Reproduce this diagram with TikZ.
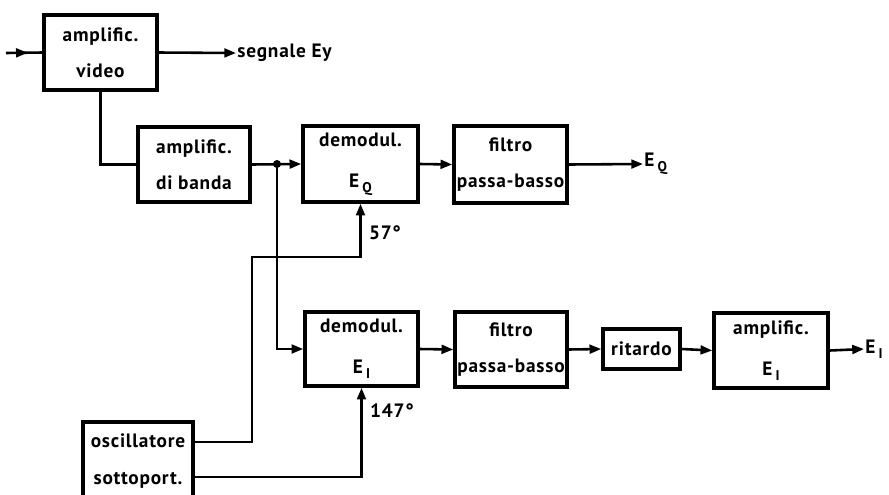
\documentclass[tikz,border=0pt]{standalone}
\usepackage{fontspec}
\setmainfont{PT Sans}[LetterSpace=4]
\usetikzlibrary{arrows.meta,calc,decorations.markings}

\newcommand\lowsub[1]{\,\raisebox{-0.55ex}{\fontsize{12}{12}\selectfont #1}}

\tikzset{
  block/.style={draw,line width=3pt,align=center,inner sep=0pt,
                font=\fontsize{16.5}{31}\selectfont\bfseries},
  lbl/.style={inner sep=1pt,font=\fontsize{16.5}{18}\selectfont\bfseries},
  wire/.style={line width=2.2pt,-{Triangle[length=10pt,width=7.5pt]}},
  midarrow/.style={line width=2.2pt,postaction={decorate},
                   decoration={markings,mark=at position .6 with
                               {\arrow{Triangle[length=10pt,width=7.5pt]}}}}
}

\begin{document}
\begin{tikzpicture}[x=0.03cm,y=-0.03cm]
  \useasboundingbox (0,0) rectangle (889,494);
  % blocks
  \node[block,minimum width=3.39cm,minimum height=2.25cm] (vid)  at (100.5,52.5) {amplific.\\video};
  \node[block,minimum width=3.36cm,minimum height=2.25cm] (band) at (194,164.5)  {amplific.\\di banda};
  \node[block,minimum width=3.45cm,minimum height=2.28cm] (demq) at (360.5,164)  {demodul.\\[4pt]E\lowsub{Q}};
  \node[block,minimum width=3.39cm,minimum height=2.31cm] (filq) at (510.5,164.5) {filtro\\passa-basso};
  \node[block,minimum width=3.39cm,minimum height=2.22cm] (demi) at (361.5,349)  {demodul.\\[4pt]E\lowsub{I}};
  \node[block,minimum width=3.36cm,minimum height=2.25cm] (fili) at (511,349.5)  {filtro\\passa-basso};
  \node[block,minimum width=2.31cm,minimum height=1.2cm]  (rit)  at (641.5,349)  {ritardo};
  \node[block,minimum width=3.42cm,minimum height=2.25cm] (ampi) at (771,350.5)  {amplific.\\[4pt]E\lowsub{I}};
  \node[block,minimum width=3.3cm,minimum height=2.34cm]  (osc)  at (138,461)    {oscillatore\\sottoport.};
  % labels
  \node[lbl,anchor=west] (sig) at (236,53)  {segnale Ey};
  \node[lbl,anchor=west] (eq)  at (643,164) {E\lowsub{Q}};
  \node[lbl,anchor=west] (ei)  at (864,349) {E\lowsub{I}};
  \node[lbl] (p57)  at (385,233) {57°};
  \node[lbl] (p147) at (392,411) {147°};
  \coordinate (in) at (6,53);
  \coordinate (jn) at (277,164);
  \coordinate (k57) at (252,257);
  % connectors
  \draw[midarrow] (in) -- (vid.west);
  \draw[wire] (vid.east) -- (sig.west);
  \draw[line width=2.2pt] (vid.south) |- (band.west);
  \draw[wire] (band.east) -- (demq.west);
  \fill (jn) circle (4);
  \draw[wire] (jn) |- (demi.west);
  \draw[wire] (demq.east) -- (filq.west);
  \draw[wire] (filq.east) -- (eq.west);
  \draw[wire] (demi.east) -- (fili.west);
  \draw[wire] (fili.east) -- (rit.west);
  \draw[wire] (rit.east) -- (ampi.west);
  \draw[wire] (ampi.east) -- (ei.west);
  \draw[wire] ([yshift=0.57cm]osc.east) -| (k57) -| (demq.south);
  \draw[wire] ([yshift=-0.48cm]osc.east) -| (demi.south);
\end{tikzpicture}
\end{document}
